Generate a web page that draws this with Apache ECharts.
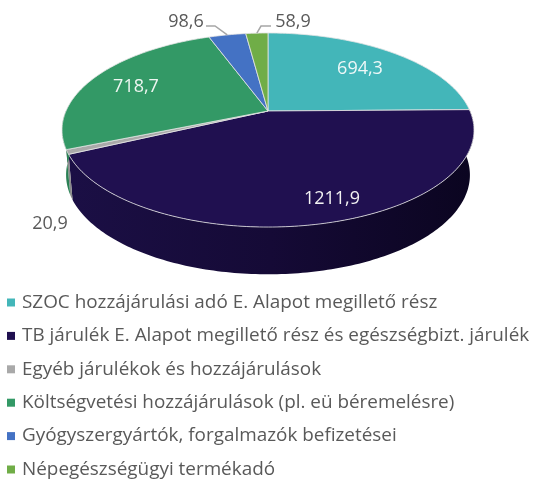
<!DOCTYPE html>
<html>
<head>
<meta charset="utf-8">
<style>html,body{margin:0;padding:0;background:#fff}#c{width:534px;height:480px}</style>
<script src="https://cdn.jsdelivr.net/npm/echarts@6/dist/echarts.min.js"></script>
</head>
<body>
<div id="c"></div>
<script>
// ---- data ----
const categories = [
  'SZOC hozzájárulási adó E. Alapot megillető rész',
  'TB járulék E. Alapot megillető rész és egészségbizt. járulék',
  'Egyéb járulékok és hozzájárulások',
  'Költségvetési hozzájárulások (pl. eü béremelésre)',
  'Gyógyszergyártók, forgalmazók befizetései',
  'Népegészségügyi termékadó'
];
const values = [694.3, 1211.9, 20.9, 718.7, 98.6, 58.9];

// ---- style & layout ----
const colors = ['#43b6b9', '#201050', '#a9a9a9', '#339966', '#4472c4', '#70ad47'];
const sideStops = [
  null,
  [[0, '#1b0f45'], [0.5, '#150a36'], [1, '#0b0520']],
  [[0, '#8a8a8a'], [1, '#8a8a8a']],
  [[0, '#2a8054'], [1, '#2a8054']],
  null,
  null
];
const labelPos = [[360, 69], [332, 199], [50, 224], [136, 87], [186, 22], [293, 22]];
const labelColor = ['#eef8f8', '#f2f2f2', '#595959', '#eef6f1', '#595959', '#595959'];
const leader = [null, null, null, null, [206, 215], [271, 261]]; // text end x, elbow x
const leaderY = 26;

const topPlane = { cx: 268, ay: 111, a: 202, b: 93.3 };
const basePlane = { cx: 268, ay: 155.5, a: 198, b: 95.5 };
const k = 0.196;

const total = values.reduce((s, v) => s + v, 0);
const starts = [];
values.reduce((s, v, i) => (starts[i] = s, s + v), 0);
const toDeg = v => v / total * 360;

function project(p, deg, r) {
  const t = deg * Math.PI / 180, u = r * Math.sin(t), v = r * Math.cos(t), d = 1 + k * v;
  return [p.cx + p.a * u / d, p.ay - p.b * v / d];
}
function arc(p, a0, a1) {
  const pts = [], n = Math.max(2, Math.ceil(Math.abs(a1 - a0)));
  for (let i = 0; i <= n; i++) pts.push(project(p, a0 + (a1 - a0) * i / n, 1));
  return pts;
}

function makeRender(i) {
  return function (params, api) {
    const value = api.value(0);
    const a0 = toDeg(starts[i]), a1 = a0 + toDeg(value), mid = (a0 + a1) / 2;
    const children = [];
    const s0 = Math.max(a0, 90), s1 = Math.min(a1, 270);
    if (s1 > s0 && sideStops[i]) {
      const pts = arc(topPlane, s0, s1).concat(arc(basePlane, s0, s1).reverse());
      children.push({
        type: 'polygon', z2: 1, shape: { points: pts },
        style: {
          fill: new echarts.graphic.LinearGradient(0, 0, 1, 0,
            sideStops[i].map(s => ({ offset: s[0], color: s[1] })))
        }
      });
    }
    children.push({
      type: 'polygon', z2: 2,
      shape: { points: [project(topPlane, 0, 0)].concat(arc(topPlane, a0, a1)) },
      style: { fill: colors[i], stroke: '#e4e4e4', lineWidth: 0.8, lineJoin: 'round' }
    });
    if (leader[i]) {
      children.push({
        type: 'polyline', z2: 3,
        shape: { points: [[leader[i][0], leaderY], [leader[i][1], leaderY], project(topPlane, mid, 1)] },
        style: { fill: 'none', stroke: '#a6a6a6', lineWidth: 1.5 }
      });
    }
    children.push({
      type: 'text', z2: 4, x: labelPos[i][0], y: labelPos[i][1],
      style: {
        text: value.toFixed(1).replace('.', ','),
        fill: labelColor[i], font: '18px "Open Sans", sans-serif',
        align: 'center', verticalAlign: 'middle'
      }
    });
    return { type: 'group', children };
  };
}

const chart = echarts.init(document.getElementById('c'), null, { renderer: 'canvas' });
chart.setOption({
  animation: false,
  legend: {
    orient: 'vertical', left: 7, top: 292.5, padding: 0, width: 527,
    icon: 'rect', itemWidth: 8, itemHeight: 8, itemGap: 13.4,
    textStyle: { color: '#595959', fontFamily: '"Open Sans", sans-serif', fontSize: 18.9, lineHeight: 20, padding: [0, 0, 0, 2] },
    selectedMode: false,
    data: categories
  },
  series: categories.map((name, i) => ({
    type: 'custom',
    name,
    coordinateSystem: 'none',
    silent: true,
    itemStyle: { color: colors[i] },
    renderItem: makeRender(i),
    data: [[values[i]]]
  }))
});
</script>
</body>
</html>
